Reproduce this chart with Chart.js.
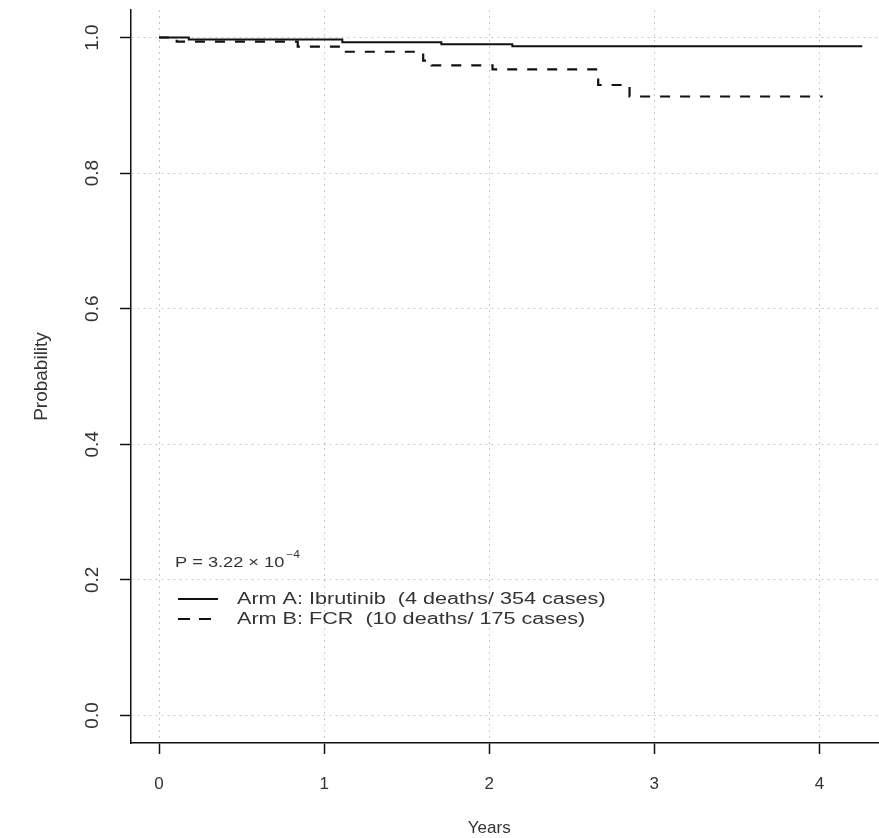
<!DOCTYPE html>
<html>
<head>
<meta charset="utf-8">
<script src="https://cdn.jsdelivr.net/npm/chart.js@4.4.1/dist/chart.umd.min.js"></script>
<style>
  html, body { margin: 0; padding: 0; background: #fff; }
  #wrap { width: 879px; height: 838px; }
</style>
</head>
<body>
<div id="wrap"><canvas id="kmChart" width="879" height="838"></canvas></div>
<script>
// Kaplan-Meier steps: time in years, survival probability after the step
const armATimes = [0, 0.18, 1.11, 1.71, 2.14, 4.26];
const armAProb  = [1.0, 0.997, 0.993, 0.990, 0.987, 0.987];
const armBTimes = [0, 0.107, 0.84, 1.115, 1.60, 1.65, 2.02, 2.66, 2.85, 4.02];
const armBProb  = [1.0, 0.994, 0.9865, 0.979, 0.966, 0.959, 0.953, 0.930, 0.913, 0.913];

const xTicks = [0, 1, 2, 3, 4];
const xTickLabels = ["0", "1", "2", "3", "4"];
const yTicks = [0, 0.2, 0.4, 0.6, 0.8, 1.0];
const yTickLabels = ["0.0", "0.2", "0.4", "0.6", "0.8", "1.0"];

const seriesLabels = ["Arm A: Ibrutinib  (4 deaths/ 354 cases)", "Arm B: FCR  (10 deaths/ 175 cases)"];
const pValueText = "P = 3.22 \u00d7 10";
const pValueExp = "\u22124";
const xTitle = "Years";
const yTitle = "Probability";

const textColor = "#333";
const lineColor = "#111";
const fontFamily = "'Liberation Sans', Arial, sans-serif";

// text stretched sideways, the original picture was scaled wider than tall
function drawText(ctx, str, x, y, size, sx, align) {
  ctx.save();
  ctx.translate(x, y);
  ctx.scale(sx, 1);
  ctx.font = size + "px " + fontFamily;
  ctx.textAlign = align || "left";
  ctx.textBaseline = "middle";
  ctx.fillText(str, 0, 0);
  ctx.restore();
}

function drawRotated(ctx, str, x, y, size) {
  ctx.save();
  ctx.translate(x, y);
  ctx.rotate(-Math.PI / 2);
  ctx.font = size + "px " + fontFamily;
  ctx.textAlign = "center";
  ctx.textBaseline = "middle";
  ctx.fillText(str, 0, 0);
  ctx.restore();
}

const rAnnotations = {
  id: "rAnnotations",
  afterDraw(chart) {
    const ctx = chart.ctx;
    const xs = chart.scales.x, ys = chart.scales.y;
    ctx.save();
    ctx.fillStyle = textColor;

    // y tick labels turned on their side, like R's default
    yTicks.forEach((v, i) => drawRotated(ctx, yTickLabels[i], 93, ys.getPixelForValue(v), 19));
    drawRotated(ctx, yTitle, 42, ys.getPixelForValue(0.5), 19);
    drawText(ctx, xTitle, xs.getPixelForValue(2), 828, 17, 1, "center");

    // p value with exponent
    ctx.font = "14px " + fontFamily;
    const pw = ctx.measureText(pValueText).width * 1.3;
    drawText(ctx, pValueText, 175, 563, 14, 1.3);
    drawText(ctx, pValueExp, 175 + pw + 2, 555, 10, 1.2);

    // legend
    ctx.strokeStyle = lineColor;
    ctx.lineWidth = 2;
    ctx.beginPath();
    ctx.moveTo(178, 599); ctx.lineTo(218, 599);
    ctx.stroke();
    ctx.setLineDash([12, 9]);
    ctx.beginPath();
    ctx.moveTo(178, 619); ctx.lineTo(212, 619);
    ctx.stroke();
    ctx.setLineDash([]);
    drawText(ctx, seriesLabels[0], 237, 600, 16, 1.35);
    drawText(ctx, seriesLabels[1], 237, 620, 16, 1.35);
    ctx.restore();
  }
};

const gridOpts = { color: "#c8c8c8", lineWidth: 1, tickLength: 11, tickColor: lineColor, tickWidth: 1.5 };
const borderOpts = { color: lineColor, width: 1.5, dash: [2, 4] };

new Chart(document.getElementById("kmChart"), {
  type: "line",
  data: {
    datasets: [
      {
        label: seriesLabels[0],
        data: armATimes.map((t, i) => ({ x: t, y: armAProb[i] })),
        borderColor: lineColor,
        borderWidth: 2,
        stepped: "before",
        pointRadius: 0,
        fill: false,
      },
      {
        label: seriesLabels[1],
        data: armBTimes.map((t, i) => ({ x: t, y: armBProb[i] })),
        borderColor: lineColor,
        borderWidth: 2.2,
        borderDash: [10, 10],
        stepped: "before",
        pointRadius: 0,
        fill: false,
      },
    ],
  },
  options: {
    responsive: false,
    animation: false,
    layout: { padding: { top: 10, right: 0, left: 0, bottom: 0 } },
    plugins: { legend: { display: false }, tooltip: { enabled: false } },
    scales: {
      x: {
        type: "linear",
        min: -0.17,
        max: 4.361,
        afterBuildTicks: (s) => { s.ticks = xTicks.map((v) => ({ value: v })); },
        afterFit: (s) => { s.height = 95; },
        ticks: {
          color: textColor,
          font: { family: fontFamily, size: 17 },
          padding: 20,
          maxRotation: 0,
          autoSkip: false,
          callback: (v, i) => xTickLabels[i],
        },
        grid: gridOpts,
        border: borderOpts,
      },
      y: {
        type: "linear",
        min: -0.0406,
        max: 1.0406,
        afterBuildTicks: (s) => { s.ticks = yTicks.map((v) => ({ value: v })); },
        afterFit: (s) => { s.width = 131; },
        ticks: { display: false },
        grid: gridOpts,
        border: borderOpts,
      },
    },
  },
  plugins: [rAnnotations],
});
</script>
</body>
</html>
